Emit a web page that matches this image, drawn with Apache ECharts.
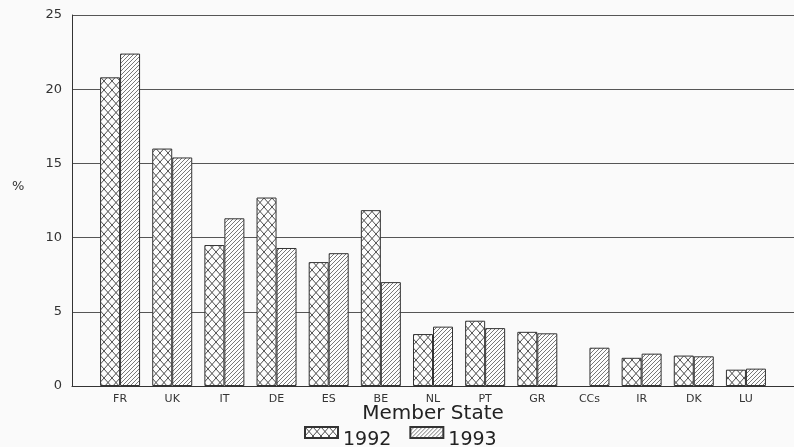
<!DOCTYPE html>
<html><head><meta charset="utf-8">
<script src="https://cdn.jsdelivr.net/npm/echarts@6/dist/echarts.min.js"></script>
<style>html,body{margin:0;padding:0;background:#fafafa}#c{width:794px;height:447px}</style>
</head><body><div id="c"></div>
<script>
const categories = ['FR','UK','IT','DE','ES','BE','NL','PT','GR','CCs','IR','DK','LU'];
const values1992 = [20.8,16.0,9.5,12.7,8.35,11.85,3.5,4.4,3.65,null,1.9,2.05,1.1];
const values1993 = [22.4,15.4,11.3,9.3,8.95,7.0,4.0,3.9,3.55,2.58,2.18,2.0,1.17];
const yTicks = [0,5,10,15,20,25];

function crossPattern(){
  const c=document.createElement('canvas'); c.width=8; c.height=9;
  const g=c.getContext('2d'); g.fillStyle='#fdfdfd'; g.fillRect(0,0,8,9);
  g.strokeStyle='#3a3a3a'; g.lineWidth=0.9; g.beginPath();
  g.moveTo(0,0); g.lineTo(8,9); g.moveTo(8,0); g.lineTo(0,9); g.stroke();
  return c;
}
function diagPattern(){
  const c=document.createElement('canvas'); c.width=4; c.height=4;
  const g=c.getContext('2d'); g.fillStyle='#fdfdfd'; g.fillRect(0,0,4,4);
  g.strokeStyle='#555'; g.lineWidth=0.8; g.beginPath();
  g.moveTo(0,4); g.lineTo(4,0); g.moveTo(-1,1); g.lineTo(1,-1); g.moveTo(3,5); g.lineTo(5,3); g.stroke();
  return c;
}
const font = 'DejaVu Sans';
const chart = echarts.init(document.getElementById('c'));
chart.setOption({
  backgroundColor:'#fafafa',
  animation:false,
  textStyle:{fontFamily:font},
  grid:[
    {left:72,right:0,top:15,bottom:61},
    {left:94,right:22,top:15,bottom:61}
  ],
  xAxis:[
    {gridIndex:0,type:'value',min:0,max:1,axisLine:{show:true,onZero:false,lineStyle:{color:'#333',width:1}},axisTick:{show:false},axisLabel:{show:false},splitLine:{show:false}},
    {gridIndex:1,type:'category',data:categories,axisLine:{show:false},axisTick:{show:false},
     axisLabel:{margin:8,fontSize:11,color:'#333',fontFamily:font},
     name:'Member State',nameLocation:'middle',nameGap:18,nameMoveOverlap:false,nameTextStyle:{fontSize:20,color:'#222',fontFamily:font}}
  ],
  yAxis:[
    {gridIndex:0,type:'value',min:0,max:25,interval:5,
     axisLine:{show:true,lineStyle:{color:'#333',width:1}},axisTick:{show:false},
     axisLabel:{margin:10,fontSize:13,color:'#333',fontFamily:font,formatter:v=>yTicks.includes(v)?String(v):''},
     splitLine:{show:true,lineStyle:{color:'#555',width:1}}},
    {gridIndex:1,type:'value',min:0,max:25,interval:5,show:false,splitLine:{show:false}}
  ],
  legend:{top:415,left:304,padding:0,itemWidth:33,itemHeight:11,itemGap:18,icon:'rect',
    formatter:n=>'{t|'+n+'}',
    textStyle:{color:'#222',fontFamily:font,rich:{t:{fontSize:19,lineHeight:19,padding:[16,0,0,0],color:'#222',fontFamily:font}}},
    data:['1992','1993']},
  graphic:[{type:'text',left:12,top:180,style:{text:'%',fontSize:13,fill:'#333',fontFamily:font}}],
  series:[
    {name:'1992',type:'bar',xAxisIndex:1,yAxisIndex:1,data:values1992,barWidth:20,barGap:'0%',
     itemStyle:{color:{image:crossPattern(),repeat:'repeat'},borderColor:'#333',borderWidth:1}},
    {name:'1993',type:'bar',xAxisIndex:1,yAxisIndex:1,data:values1993,barWidth:20,barGap:'0%',
     itemStyle:{color:{image:diagPattern(),repeat:'repeat'},borderColor:'#333',borderWidth:1}}
  ]
});
</script></body></html>
